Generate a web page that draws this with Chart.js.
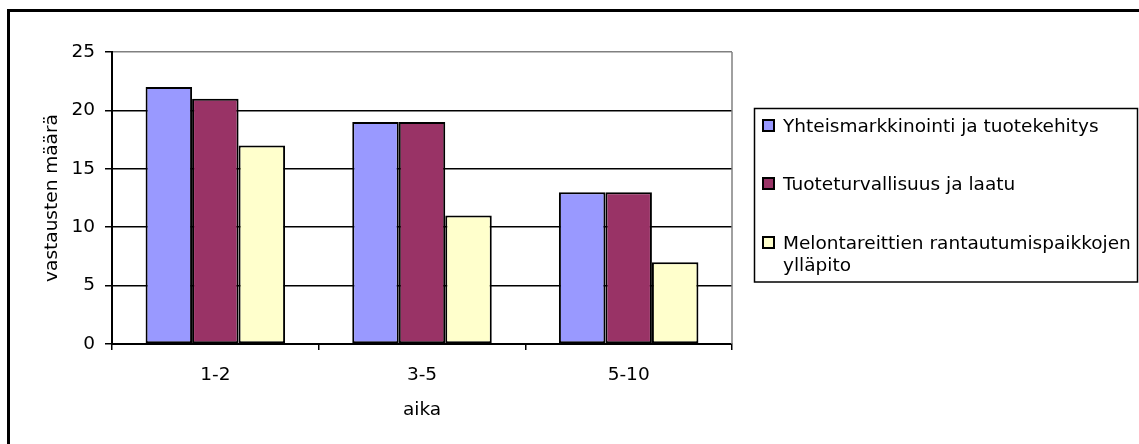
<!DOCTYPE html>
<html>
<head>
<meta charset="utf-8">
<script src="https://cdn.jsdelivr.net/npm/chart.js@4"></script>
<style>
  html, body { margin: 0; padding: 0; background: #fff; overflow: hidden; }
  #wrap { position: relative; width: 1139px; height: 444px; }
  #frame { position: absolute; left: 7px; top: 9px; width: 2000px; height: 1000px;
           border-left: 3px solid #000; border-top: 3px solid #000; pointer-events: none; }
  canvas { position: absolute; left: 0; top: 0; }
</style>
</head>
<body>
<div id="wrap">
  <canvas id="c" width="1139" height="444"></canvas>
  <div id="frame"></div>
</div>
<script>
const categories = ["1-2", "3-5", "5-10"];
const seriesNames = ["Yhteismarkkinointi ja tuotekehitys", "Tuoteturvallisuus ja laatu", "Melontareittien rantautumispaikkojen ylläpito"];
const legendLines = [["Yhteismarkkinointi ja tuotekehitys"], ["Tuoteturvallisuus ja laatu"], ["Melontareittien rantautumispaikkojen", "ylläpito"]];
const seriesA = [22, 19, 13];
const seriesB = [21, 19, 13];
const seriesC = [17, 11, 7];
const seriesColors = ["#9999FF", "#993366", "#FFFFCC"];
const yTitle = "vastausten määrä";
const xTitle = "aika";

const FONT = "DejaVu Sans";
const FS = 18.5;

const frameLines = {
  id: 'frameLines',
  beforeDatasetsDraw(chart) {
    const { ctx, chartArea: a } = chart;
    ctx.save();
    ctx.strokeStyle = '#808080';
    ctx.lineWidth = 1.5;
    ctx.beginPath();
    ctx.moveTo(a.right, a.top);
    ctx.lineTo(a.right, a.bottom);
    ctx.stroke();
    ctx.restore();
  }
};

const boxLegend = {
  id: 'boxLegend',
  afterDraw(chart) {
    const ctx = chart.ctx;
    ctx.save();
    ctx.strokeStyle = '#000';
    ctx.lineWidth = 1.5;
    ctx.strokeRect(754.5, 108.5, 383, 173.5);
    ctx.font = FS + 'px "' + FONT + '"';
    ctx.fillStyle = '#000';
    ctx.textBaseline = 'alphabetic';
    ctx.textAlign = 'left';
    const baselines = [132, 190, 249];
    chart.data.datasets.forEach((ds, i) => {
      const b = baselines[i];
      ctx.fillStyle = ds.backgroundColor;
      ctx.fillRect(763, b - 12, 11, 11);
      ctx.strokeStyle = '#000';
      ctx.lineWidth = 2;
      ctx.strokeRect(763, b - 12, 11, 11);
      ctx.fillStyle = '#000';
      legendLines[i].forEach((t, j) => ctx.fillText(t, 783, b + j * 22));
    });
    ctx.restore();
  }
};

new Chart(document.getElementById('c'), {
  type: 'bar',
  data: {
    labels: categories,
    datasets: [
      { label: seriesNames[0], data: seriesA, backgroundColor: seriesColors[0] },
      { label: seriesNames[1], data: seriesB, backgroundColor: seriesColors[1] },
      { label: seriesNames[2], data: seriesC, backgroundColor: seriesColors[2] }
    ].map(d => Object.assign(d, { borderColor: '#000', borderWidth: 2, borderSkipped: false,
                                  categoryPercentage: 0.675, barPercentage: 1.0 }))
  },
  options: {
    responsive: false,
    animation: false,
    events: [],
    layout: { padding: { left: 0, top: 52, right: 407, bottom: 0 } },
    plugins: { legend: { display: false }, tooltip: { enabled: false } },
    scales: {
      x: {
        offset: true,
        afterFit(s) { s.height = 100; },
        grid: { display: true, drawOnChartArea: false, drawTicks: true, tickLength: 6,
                offset: true, color: '#000', lineWidth: 1.5 },
        border: { display: true, color: '#000', width: 2 },
        ticks: { color: '#000', font: { family: FONT, size: FS }, padding: 14 },
        title: { display: true, text: xTitle, color: '#000', font: { family: FONT, size: FS },
                 padding: { top: 0, bottom: 23 } }
      },
      y: {
        min: 0, max: 25,
        afterFit(s) { s.width = 112; },
        grid: { drawTicks: true, tickLength: 7, lineWidth: 1.5, tickColor: '#000',
                color: c => (c.tick && c.tick.value === 25) ? '#808080' : '#000' },
        border: { display: true, color: '#000', width: 2 },
        ticks: { stepSize: 5, color: '#000', font: { family: FONT, size: FS }, padding: 10 },
        title: { display: true, text: yTitle, color: '#000', font: { family: FONT, size: FS },
                 padding: { top: 41, bottom: 0 } }
      }
    }
  },
  plugins: [frameLines, boxLegend]
});
</script>
</body>
</html>
